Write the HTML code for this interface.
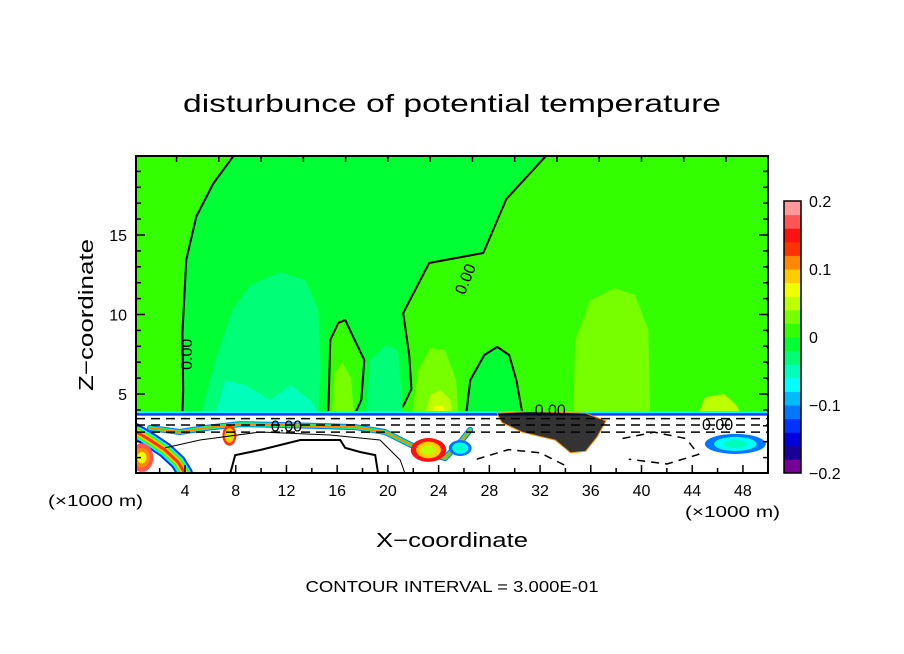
<!DOCTYPE html>
<html><head><meta charset="utf-8"><style>
html,body{margin:0;padding:0;background:#fff;width:904px;height:654px;overflow:hidden}
svg{display:block;font-family:"Liberation Sans",sans-serif}
</style></head><body>
<svg id="chart" width="904" height="654" viewBox="0 0 904 654">
<text x="452" y="112" text-anchor="middle" font-size="25" textLength="538" lengthAdjust="spacingAndGlyphs">disturbunce of potential temperature</text>
<text x="452" y="547" text-anchor="middle" font-size="20" textLength="152" lengthAdjust="spacingAndGlyphs">X−coordinate</text>
<text transform="translate(93,315) rotate(-90)" text-anchor="middle" font-size="20" textLength="152" lengthAdjust="spacingAndGlyphs">Z−coordinate</text>
<text x="48" y="506" font-size="16" textLength="95" lengthAdjust="spacingAndGlyphs">(×1000 m)</text>
<text x="685" y="517" font-size="16" textLength="95" lengthAdjust="spacingAndGlyphs">(×1000 m)</text>
<text x="452" y="592" text-anchor="middle" font-size="16" textLength="293" lengthAdjust="spacingAndGlyphs">CONTOUR INTERVAL = 3.000E-01</text>
<defs><clipPath id="pc"><rect x="136" y="156" width="632" height="317"/></clipPath></defs>
<g id="plot" clip-path="url(#pc)"></g>
<g id="axes"></g>
<g id="cbar"></g>
</svg>
<script>
// axis data
const xTickLabels = [4,8,12,16,20,24,28,32,36,40,44,48];
const yTickLabels = [5,10,15];
const cbarLevels = [-0.2,-0.18,-0.16,-0.14,-0.12,-0.1,-0.08,-0.06,-0.04,-0.02,0,0.02,0.04,0.06,0.08,0.1,0.12,0.14,0.16,0.18];
const cbarColors = ["#770099","#1a0099","#0000dd","#0033ff","#0077ff","#00bbff","#00ffff","#00ffbb","#00ff77","#00ff33","#33ff00","#77ff00","#bbff00","#eeff00","#ffcc00","#ff8800","#ff3300","#ff1111","#ff5555","#ff9999"];
const cbarTickLabels = [-0.2,-0.1,0,0.1,0.2];
// contour regions (x km, z km) with level value
const negMainRegion = [[3.79,3.8],[3.86,5.25],[3.79,8.8],[4.10,13.45],[4.89,16.16],[6.23,18.24],[8.04,20.2],[32.73,20.2],[29.34,17.26],[27.52,13.87],[23.26,13.24],[21.21,10.09],[21.69,7.39],[21.85,5.31],[21.21,4.24],[20.66,3.8]];
const negMainValue = -0.01;
const posBubble = [[15.30,3.8],[15.46,8.4],[16.09,9.47],[16.64,9.65],[17.19,8.71],[18.14,7.14],[17.90,4.62],[17.43,3.8]];
const posBubbleValue = 0.01;
const posBubbleInner = [[15.6,3.8],[15.8,6.3],[16.4,7.0],[17.1,6.0],[17.3,3.8]];
const posBubbleInnerValue = 0.03;
const negBubble = [[26.18,3.8],[26.5,5.88],[27.6,7.45],[28.63,7.96],[29.57,7.45],[30.13,5.88],[30.6,3.8]];
const negBubbleValue = -0.01;
const cyanDome = [[5.28,3.8],[6.39,7.14],[7.73,10.28],[9.15,11.85],[11.51,12.67],[13.49,12.17],[14.51,10.28],[14.7,6.5],[14.51,3.8]];
const cyanDomeValue = -0.03;
const cyanLow = [[6.39,3.8],[7.18,5.88],[8.75,5.56],[10.73,4.62],[12.3,5.56],[13.88,4.62],[14.51,3.8]];
const cyanLowValue = -0.05;
const cyanBlob2 = [[18.3,3.8],[18.6,7.14],[19.8,8.08],[20.8,7.77],[21.2,3.8]];
const cyanBlob2Value = -0.03;
const limeBlob = [[21.92,3.8],[22.4,6.5],[23.34,7.89],[24.5,7.77],[25.39,5.88],[25.55,3.8]];
const limeBlobValue = 0.03;
const yellowBlob = [[22.95,3.8],[23.34,4.94],[24.13,5.25],[24.92,4.62],[25.08,3.8]];
const yellowBlobValue = 0.05;
const yellowCore = [[23.4,3.8],[23.7,4.3],[24.3,4.3],[24.6,3.8]];
const yellowCoreValue = 0.07;
const limeDome = [[34.62,3.8],[34.78,8.4],[35.96,10.91],[37.93,11.66],[39.5,11.22],[40.54,9.02],[40.69,3.8]];
const limeDomeValue = 0.03;
const limeLowRight = [[44.5,3.8],[45.0,4.8],[46.5,5.0],[47.5,4.3],[47.8,3.8]];
const limeLowRightValue = 0.05;
// lower layer features
const leftSwirl = [[0.0,2.7],[1.24,2.11],[2.42,1.48],[3.45,0.72],[4.0,0.0]];
const upperBand = [[1.24,2.86],[3.61,2.61],[5.58,2.86],[8.34,3.11],[11.5,3.05],[14.65,2.99],[17.41,2.92],[19.77,2.61],[21.35,1.98],[22.93,1.35],[24.51,0.97],[25.85,2.11],[26.48,2.74]];
const blackMass = [[28.6,3.8],[31.2,3.9],[35.6,3.8],[37.2,3.3],[36.5,2.3],[35.6,1.4],[34.4,1.3],[33.2,2.1],[30.6,2.6],[29.0,3.2]];
const thickContour = [[7.56,0.0],[7.96,1.16],[9.93,1.48],[13.09,2.11],[16.24,2.11],[16.63,1.61],[17.81,1.35],[19.0,1.16],[19.23,0.0]];
const thinContour = [[2.42,1.61],[5.18,2.11],[9.93,2.61],[15.44,2.42],[19.38,2.11],[20.97,0.85],[21.35,0.0]];
const dashLevels = [3.45,3.05,2.6];
const dashCurveA = [[27.0,0.9],[29.5,1.5],[32.0,1.3],[34.0,0.5]];
const dashCurveB = [[38.5,2.2],[41.0,2.6],[43.5,2.2],[44.5,1.2],[42.0,0.6],[39.0,0.9]];
const hotPatches = [[7.5,2.4,0.55,0.65,0.12],[23.2,1.48,1.4,0.75,0.14]];
const coldPatches = [[47.4,1.86,2.4,0.63,-0.12],[25.7,1.6,0.9,0.5,-0.11],[0.6,1.0,0.9,0.9,0.17]];
const contourLabels = [[4.2,7.5,-90],[26.2,12.2,-68],[12.0,2.9,0],[32.8,3.9,0],[46.0,3.0,0]];

const X0=134.3, XS=12.68, Y0=473.5, YS=15.9;
const px = x => X0 + x*XS;
const py = z => Y0 - z*YS;
const NS="http://www.w3.org/2000/svg";
function colorFor(v){let i=Math.floor((v+0.2)/0.02+1e-9);i=Math.max(0,Math.min(19,i));return cbarColors[i];}
function mk(tag,parent){const e=document.createElementNS(NS,tag);parent.appendChild(e);return e;}
function ptsStr(a){return a.map(p=>px(p[0]).toFixed(1)+","+py(p[1]).toFixed(1)).join(" ");}
function pathStr(a){return "M"+a.map(p=>px(p[0]).toFixed(1)+" "+py(p[1]).toFixed(1)).join(" L");}
const plot=document.getElementById("plot");
const axes=document.getElementById("axes");
const cbar=document.getElementById("cbar");

let bg=mk("rect",plot);


bg.setAttribute("x",136);bg.setAttribute("y",156);bg.setAttribute("width",632);bg.setAttribute("height",317);bg.setAttribute("fill",colorFor(0.01));

function region(pts,val,name,stroke){
  const p=mk("polygon",plot);
  
  
  p.setAttribute("points",ptsStr(pts));p.setAttribute("fill",colorFor(val));
  p.setAttribute("stroke-linejoin","round");
  if(stroke){p.setAttribute("stroke","#000");p.setAttribute("stroke-width","2");}
  return p;
}
region(negMainRegion,negMainValue,"negative-region-main",true);
region(cyanDome,cyanDomeValue,"cyan-dome",false);
region(cyanLow,cyanLowValue,"cyan-low",false);
region(cyanBlob2,cyanBlob2Value,"cyan-blob",false);
region(posBubble,posBubbleValue,"positive-bubble",true);
region(posBubbleInner,posBubbleInnerValue,"positive-bubble-core",false);
region(limeBlob,limeBlobValue,"lime-blob",false);
region(yellowBlob,yellowBlobValue,"yellow-blob",false);
region(yellowCore,yellowCoreValue,"yellow-core",false);
region(negBubble,negBubbleValue,"negative-bubble",true);
region(limeDome,limeDomeValue,"lime-dome",false);
region(limeLowRight,limeLowRightValue,"lime-low-right",false);

let low=mk("rect",plot);


low.setAttribute("x",136);low.setAttribute("y",py(3.72));low.setAttribute("width",632);low.setAttribute("height",473-py(3.72));low.setAttribute("fill","#fff");
let cy=mk("line",plot);


cy.setAttribute("x1",136);cy.setAttribute("x2",768);cy.setAttribute("y1",py(3.86));cy.setAttribute("y2",py(3.86));cy.setAttribute("stroke","#00ffff");cy.setAttribute("stroke-width","2");
let bl=mk("line",plot);


bl.setAttribute("x1",136);bl.setAttribute("x2",768);bl.setAttribute("y1",py(3.72));bl.setAttribute("y2",py(3.72));bl.setAttribute("stroke","#0033ff");bl.setAttribute("stroke-width","2.5");

function stripe(pts,name,layers){
  layers.forEach((l,i)=>{
    const p=mk("path",plot);
    
    
    p.setAttribute("d",pathStr(pts));p.setAttribute("fill","none");p.setAttribute("stroke",l[0]);p.setAttribute("stroke-width",l[1]);p.setAttribute("stroke-linejoin","round");p.setAttribute("stroke-linecap","round");
  });
}
stripe(leftSwirl,"left-swirl",[["#0033ff",16],["#00ffff",12],["#33ff00",9],["#ffcc00",6],["#ff3300",3]]);
stripe(upperBand,"upper-band",[["#0077ff",6],["#00ff77",4],["#ff8800",2]]);
function blob(b,name){
  [[1,1],[0.7,0.6],[0.4,0.3]].forEach((s,i)=>{
    const e=mk("ellipse",plot);
    
    
    e.setAttribute("cx",px(b[0]));e.setAttribute("cy",py(b[1]));e.setAttribute("rx",b[2]*XS*s[0]);e.setAttribute("ry",b[3]*YS*s[0]);
    e.setAttribute("fill",colorFor(b[4]*s[1]+(b[4]>0?0.02:-0.02)*(1-s[1])));
  });
}
hotPatches.forEach(b=>blob(b,"warm-patch"));
coldPatches.forEach(b=>blob(b,"cold-patch"));
let bm=mk("polygon",plot);


bm.setAttribute("points",ptsStr(blackMass));bm.setAttribute("fill","#000");bm.setAttribute("fill-opacity","0.8");bm.setAttribute("stroke","#ff8800");bm.setAttribute("stroke-width","1");bm.setAttribute("stroke-linejoin","round");
let tc=mk("path",plot);


tc.setAttribute("d",pathStr(thickContour));tc.setAttribute("fill","none");tc.setAttribute("stroke","#000");tc.setAttribute("stroke-width","2");
let tn=mk("path",plot);


tn.setAttribute("d",pathStr(thinContour));tn.setAttribute("fill","none");tn.setAttribute("stroke","#000");tn.setAttribute("stroke-width","1");
dashLevels.forEach(z=>{
  const l=mk("line",plot);
  
  
  l.setAttribute("x1",136);l.setAttribute("x2",768);l.setAttribute("y1",py(z));l.setAttribute("y2",py(z));l.setAttribute("stroke","#000");l.setAttribute("stroke-width","1.5");l.setAttribute("stroke-dasharray","9 6");
});
[dashCurveA,dashCurveB].forEach(c=>{
  const p=mk("path",plot);
  
  
  p.setAttribute("d",pathStr(c));p.setAttribute("fill","none");p.setAttribute("stroke","#000");p.setAttribute("stroke-width","1.5");p.setAttribute("stroke-dasharray","8 6");
});
contourLabels.forEach(c=>{
  const t=mk("text",plot);
  
  
  t.setAttribute("transform","translate("+px(c[0])+","+py(c[1])+") rotate("+c[2]+")");
  t.setAttribute("text-anchor","middle");t.setAttribute("dominant-baseline","middle");t.setAttribute("font-size","16");
  t.textContent="0.00";
});

let fr=mk("rect",axes);


fr.setAttribute("x",136);fr.setAttribute("y",156);fr.setAttribute("width",632);fr.setAttribute("height",317);fr.setAttribute("fill","none");fr.setAttribute("stroke","#000");fr.setAttribute("stroke-width","2");
function tick(x1,y1,x2,y2,name){const l=mk("line",axes);
  
  
  l.setAttribute("x1",x1);l.setAttribute("y1",y1);l.setAttribute("x2",x2);l.setAttribute("y2",y2);l.setAttribute("stroke","#000");l.setAttribute("stroke-width","1.5");}
for(let x=2;x<50;x+=2){const big=x%4===0;tick(px(x),473,px(x),473-(big?8:5),"x-tick");}
for(let x=10/3;x<50;x+=10/3){tick(px(x),156,px(x),162,"top-tick");}
for(let z=1;z<20;z++){const big=z%5===0;const L=big?9:5;tick(136,py(z),136+L,py(z),"y-tick");tick(768,py(z),768-L,py(z),"y-tick-right");}
xTickLabels.forEach(v=>{const t=mk("text",axes);
  
  
  t.setAttribute("x",px(v));t.setAttribute("y",496);t.setAttribute("text-anchor","middle");t.setAttribute("font-size","16");t.textContent=v;});
yTickLabels.forEach(v=>{const t=mk("text",axes);
  
  
  t.setAttribute("x",127);t.setAttribute("y",py(v)+6);t.setAttribute("text-anchor","end");t.setAttribute("font-size","16");t.textContent=v;});

const CB_TOP=201, CB_BOT=473, CBX=784, CBW=17;
const cby=v=>CB_BOT-(v+0.2)/0.4*(CB_BOT-CB_TOP);
cbarLevels.forEach((v,i)=>{const r=mk("rect",cbar);
  
  
  r.setAttribute("x",CBX);r.setAttribute("y",cby(v+0.02));r.setAttribute("width",CBW);r.setAttribute("height",cby(v)-cby(v+0.02)+0.5);r.setAttribute("fill",cbarColors[i]);});
let cf=mk("rect",cbar);


cf.setAttribute("x",CBX);cf.setAttribute("y",CB_TOP);cf.setAttribute("width",CBW);cf.setAttribute("height",CB_BOT-CB_TOP);cf.setAttribute("fill","none");cf.setAttribute("stroke","#000");cf.setAttribute("stroke-width","1.5");
cbarTickLabels.forEach(v=>{const t=mk("text",cbar);
  
  
  t.setAttribute("x",809);t.setAttribute("y",cby(v)+6);t.setAttribute("font-size","16");
  t.textContent=(v<0?"−":"")+Math.abs(v);});
</script>
</body></html>
